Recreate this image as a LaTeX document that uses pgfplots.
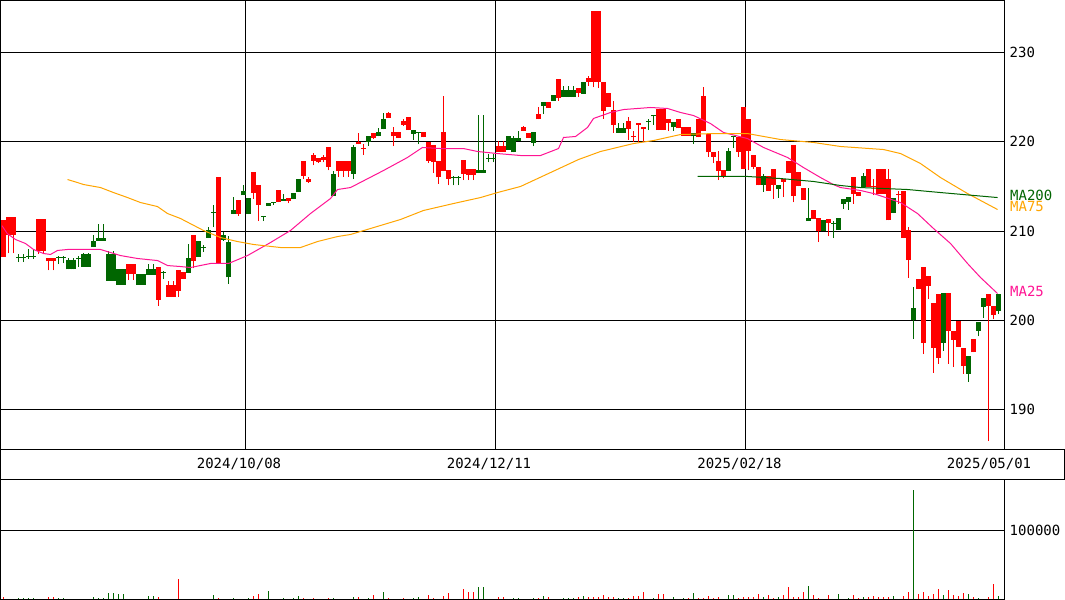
\documentclass[border=0pt]{standalone}
\usepackage{pgfplots}
\pgfplotsset{compat=1.18}
\usepackage{pgfplotstable}
\usepackage{fontspec}
\setmainfont{DejaVu Sans Mono}
\newcommand{\cf}{\fontsize{14bp}{16bp}\selectfont}
\definecolor{cred}{RGB}{255,0,0}
\definecolor{cgreen}{RGB}{0,102,0}
\definecolor{cpink}{RGB}{255,20,147}
\definecolor{corange}{RGB}{255,165,0}
\definecolor{cma}{RGB}{0,100,0}

\pgfplotstableread{
i bl bh wl wh
0 207.1 211.2 207.1 211.2
1 209.5 211.6 207.5 211.6
2 209.5 211.6 207.5 211.6
7 207.8 211.3 207.4 211.3
8 207.8 211.3 207.4 211.3
9 206.6 207.0 205.6 207.0
10 206.6 207.0 205.6 207.0
25 205.2 206.3 204.5 206.3
26 205.2 206.3 204.5 206.3
31 202.3 206.0 201.6 206.0
33 202.6 204.0 202.6 204.4
34 202.6 204.0 202.6 204.4
35 203.3 205.6 202.6 205.6
36 204.6 205.4 204.6 205.4
38 206.6 209.5 205.8 209.5
43 206.3 216.0 206.3 216.0
47 211.9 213.5 211.7 213.5
50 214.3 216.6 213.6 216.6
51 212.9 215.1 211.1 215.1
55 213.2 214.6 213.2 214.6
57 213.4 213.7 213.1 213.7
60 216.2 217.8 215.8 217.8
61 215.5 215.8 215.4 216.1
62 217.9 218.5 217.35 218.75
63 217.7 218.2 217.6 218.2
64 218.0 218.3 217.7 218.5
65 217.2 219.4 216.8 219.4
67 216.7 217.9 216.1 217.9
68 216.7 217.9 216.1 217.9
69 216.7 217.9 216.1 217.9
71 219.7 220.0 219.7 221.0
72 219.25 219.35 218.57 219.7
74 220.4 221.0 220.3 221.0
77 222.7 223.2 222.7 223.3
78 220.6 221.1 219.5 221.6
79 220.4 221.1 220.4 221.1
80 221.9 222.3 221.8 222.6
81 221.3 222.8 221.3 222.8
84 220.5 221.1 220.5 221.1
85 217.9 220.0 217.6 220.0
86 217.7 219.6 216.5 219.6
87 216.0 217.8 215.3 217.8
88 216.7 221.1 216.7 225.1
89 215.8 216.8 215.1 216.8
92 216.4 218.0 215.7 218.0
93 216.3 216.9 215.7 216.9
94 216.3 216.9 215.7 216.9
99 218.9 219.5 218.9 220.1
100 218.9 219.5 218.9 220.1
104 221.2 221.6 221.2 221.8
105 220.4 221.0 220.4 221.0
107 222.5 223.1 222.5 223.9
109 223.8 224.4 223.8 224.4
111 224.9 227.0 224.6 227.0
115 225.5 226.0 225.0 226.0
117 226.7 227.2 226.3 227.4
118 226.7 234.7 226.1 234.7
119 226.7 234.7 226.0 234.7
120 223.5 226.7 222.6 226.7
121 223.9 225.5 223.9 225.5
122 221.9 223.6 221.0 224.6
125 221.4 222.3 220.2 222.8
126 220.5 220.6 220.0 221.2
127 221.9 222.05 220.0 222.05
128 221.4 221.7 220.0 221.7
131 221.3 223.7 221.3 223.7
132 221.3 223.7 221.3 223.7
133 222.1 222.5 221.2 222.5
135 221.5 222.5 221.5 222.5
136 220.7 221.6 220.7 221.6
137 220.7 221.6 220.7 221.6
139 220.5 222.6 220.5 222.6
140 221.2 225.1 221.2 226.1
141 218.8 220.9 218.3 220.9
142 218.3 218.9 217.6 218.9
143 216.7 217.9 215.7 219.0
144 216.1 216.8 215.9 216.8
147 218.9 220.5 218.3 220.5
148 216.9 223.9 216.9 223.9
149 219.0 222.5 216.8 222.5
150 217.2 218.5 216.9 218.5
151 215.1 217.2 215.1 217.2
153 214.5 216.2 214.5 216.2
154 215.2 217.0 213.6 217.0
156 215.5 215.8 213.8 215.8
157 216.5 217.8 216.5 217.8
158 213.9 219.6 213.2 219.6
159 215.0 216.6 215.0 216.6
160 213.5 214.8 213.5 214.8
162 211.4 212.3 211.4 212.3
163 210.0 211.5 208.75 211.5
165 210.9 211.3 209.4 211.3
170 214.2 216.0 213.05 216.0
171 213.9 214.35 213.9 214.35
173 214.9 217.0 214.9 217.0
174 214.95 215.05 214.0 215.85
175 214.2 217.0 214.2 217.0
176 214.2 217.0 214.2 217.0
177 211.2 215.8 211.2 217.0
179 214.05 214.15 213.04 214.5
180 209.2 214.5 209.2 214.5
181 206.7 210.1 204.75 210.5
183 203.5 204.6 203.5 204.6
184 197.5 206.0 196.2 206.0
185 203.8 205.0 202.4 205.0
186 196.9 201.9 194.1 201.9
187 195.8 202.96 195.1 202.96
189 198.85 203.0 195.1 203.0
190 197.8 198.85 194.75 198.85
191 197.0 199.9 197.0 199.9
192 194.85 196.9 194.0 196.9
194 196.4 197.9 196.4 197.9
197 201.65 202.9 186.45 202.9
198 200.6 201.6 200.1 201.6
}\redc

\pgfplotstableread{
i bl bh wl wh
3 206.95 207.05 206.5 207.4
4 206.95 207.05 206.5 207.4
5 207.15 207.25 206.9 208.0
6 207.15 207.25 206.9 208.0
11 206.95 207.05 206.3 207.25
12 206.95 207.05 206.4 207.25
13 205.7 206.8 205.7 207.0
14 205.7 206.8 205.7 207.0
15 206.9 207.0 205.95 207.15
16 206.0 207.4 206.0 207.5
17 206.0 207.4 206.0 207.5
18 208.2 208.9 208.2 209.6
19 208.9 209.2 208.9 210.8
20 208.9 209.2 208.9 210.8
21 204.4 207.4 204.4 207.8
22 204.4 207.4 204.4 207.8
23 204.0 205.7 204.0 205.7
24 204.0 205.7 204.0 205.7
27 204.0 205.2 204.0 205.2
28 204.0 205.2 204.0 205.2
29 205.1 205.7 205.1 206.3
30 205.1 205.7 205.1 206.3
32 205.3 205.4 204.6 205.5
37 205.3 207.0 205.3 208.5
39 207.1 208.9 207.1 208.9
40 208.15 208.25 207.7 208.4
41 209.2 210.1 209.2 210.5
42 212.05 212.15 210.4 212.9
44 209.0 209.5 208.9 209.9
45 204.8 208.8 204.1 209.4
46 211.9 212.4 211.9 213.8
48 214.0 214.5 214.0 215.2
49 211.9 213.7 211.9 213.7
52 211.55 211.65 211.1 211.7
53 212.85 213.1 212.85 213.1
54 213.15 213.25 212.9 213.25
56 213.4 213.55 213.4 214.1
58 213.6 214.3 213.6 214.3
59 214.4 215.8 214.4 215.8
66 213.9 216.4 213.9 216.7
70 216.4 219.4 215.8 219.6
73 220.0 220.6 219.5 220.7
75 220.6 221.1 220.6 221.5
76 221.4 222.6 221.4 223.2
82 220.9 221.3 220.25 221.3
83 221.0 221.1 219.7 221.1
90 215.9 216.05 215.1 216.2
91 215.9 216.05 215.1 216.2
95 216.5 216.8 216.5 223.05
96 216.5 216.8 216.5 223.05
97 218.1 218.2 217.7 218.65
98 218.1 218.2 217.7 218.65
101 219.1 220.6 219.1 220.6
102 218.8 220.4 218.8 220.7
103 220.1 220.4 220.1 221.2
106 219.9 221.1 219.5 221.1
108 224.0 224.4 223.1 224.4
110 224.6 225.2 224.6 225.2
112 225.0 225.85 225.0 226.2
113 225.0 225.85 225.0 226.2
114 225.0 225.85 225.0 226.2
116 225.4 226.7 225.4 226.7
123 221.0 221.5 221.0 222.1
124 221.0 221.5 221.0 222.1
129 222.25 222.35 221.3 222.55
130 222.85 222.95 221.9 222.95
134 221.6 222.2 221.2 222.2
138 220.6 220.96 219.8 220.96
145 216.7 219.0 216.7 219.3
146 220.55 220.65 219.3 220.7
152 215.2 216.2 214.4 216.4
155 214.7 215.1 213.7 215.1
161 211.1 211.5 211.1 214.8
164 210.0 211.2 210.0 211.2
166 210.85 210.95 209.2 211.1
167 210.1 211.5 210.1 211.5
168 213.0 213.6 212.5 213.6
169 213.2 213.8 212.4 213.8
172 214.9 216.2 214.9 216.5
178 212.0 213.7 212.0 213.7
182 200.0 201.4 197.9 203.7
188 197.5 203.0 196.6 203.0
193 194.0 196.05 193.1 196.05
195 198.85 199.8 198.2 199.8
196 201.5 202.5 200.3 202.5
199 201.0 202.9 200.7 202.9
}\greenc

\pgfplotstableread{
i v
0 3500
9 3500
10 3500
31 3500
35 29000
43 2000
50 5000
51 8500
60 2000
62 2000
65 2000
71 3500
74 6500
77 2000
80 2000
85 6500
86 2000
88 5000
89 9400
92 15500
93 11000
94 11000
99 3500
100 3500
107 2000
109 3500
115 3500
117 3500
118 3500
119 3500
120 6400
121 3500
122 3500
125 2000
126 5000
127 5000
128 10900
131 8000
132 8000
137 2000
139 2000
140 2000
141 5000
142 2000
143 3500
147 2000
148 3500
149 3500
150 3500
151 8000
153 6400
154 2000
156 6400
157 18300
158 3500
159 3500
160 10900
162 6400
163 2000
165 6400
170 6400
171 2000
173 3500
174 5000
175 3500
176 3500
177 3500
180 5000
181 10900
183 8000
184 10900
185 5000
186 8000
187 15400
189 13900
190 6400
191 5000
192 9400
194 3500
197 3500
198 22700
}\redv

\pgfplotstableread{
i v
3 2000
4 2000
5 2000
6 2000
11 2000
12 2000
18 3500
19 2000
20 2000
21 9400
22 9400
23 8500
24 8500
29 5000
30 5000
42 6500
46 2000
49 2000
53 12500
56 2000
58 2000
59 5000
66 2000
70 3500
73 2000
76 11000
82 2000
83 3500
95 18400
96 18400
102 2000
103 2000
106 2000
108 5000
112 2000
113 2000
114 2000
116 5000
123 2000
124 2000
130 2000
134 3500
136 2000
138 9400
145 6400
146 6400
152 3500
155 3500
161 19700
167 8000
169 2000
172 3500
178 5000
182 159400
188 6400
193 8000
195 2000
199 5000
}\greenv

\pgfplotsset{
  candle/.style 2 args={forget plot, draw=none, mark=none,
    error bars/.cd, y dir=plus, y explicit, error mark=none,
    error bar style={draw=#1, line width=#2, line cap=butt}},
}

\begin{document}
\begin{tikzpicture}[x=1bp,y=1bp]
\useasboundingbox (0,0) rectangle (1065,600);
\fill[white] (0,0) rectangle (1065,600);

\begin{axis}[
  at={(0.5bp,150.5bp)}, anchor=south west,
  width=1004bp, height=449bp, scale only axis,
  xmin=-0.5, xmax=200.3, ymin=185.52, ymax=235.83,
  axis line style={black, line width=1bp},
  xtick={48.5,98.5,148.5}, xticklabels={,,},
  ytick={190,200,210,220,230},
  xmajorgrids, ymajorgrids, grid style={black, line width=1bp},
  major tick length=0pt,
  yticklabel pos=right,
  yticklabel style={anchor=west, inner sep=0pt, xshift=5bp, font=\cf},
  /pgf/number format/assume math mode=true,
]
% wicks
\addplot[candle={cred}{1bp}]
  table[x=i, y=wl, y error expr=\thisrow{wh}-\thisrow{wl}] {\redc};
\addplot[candle={cgreen}{1bp}]
  table[x=i, y=wl, y error expr=\thisrow{wh}-\thisrow{wl}] {\greenc};
% bodies
\addplot[candle={cred}{5bp}]
  table[x=i, y=bl, y error expr=\thisrow{bh}-\thisrow{bl}] {\redc};
\addplot[candle={cgreen}{5bp}]
  table[x=i, y=bl, y error expr=\thisrow{bh}-\thisrow{bl}] {\greenc};
% moving averages
\addplot[cpink, line width=1bp, mark=none] coordinates {
(-0.2,210.6)(0.84,209.72)(2.5,209.05)(4.5,208.60)(6.1,207.93)(8.1,207.48)(9.5,207.37)(10.9,207.82)(12.9,207.93)(19.5,207.93)(21.5,207.59)(23.5,207.25)(26.9,206.92)(30.9,206.69)(32.9,206.13)(35.5,206.02)(37.5,205.91)(41.5,206.36)(45.1,206.36)(48.9,207.25)(53.5,208.71)(57.5,210.06)(61.5,211.96)(65.5,213.64)(66.9,214.65)(69.5,214.87)(76.1,216.78)(80.9,218.24)(83.9,219.36)(87.5,219.24)(92.1,219.24)(94.9,218.91)(98.9,218.68)(103.5,218.46)(107.5,218.46)(111.1,219.24)(112.1,220.48)(114.5,220.59)(116.9,221.60)(118.1,222.61)(121.5,223.28)(124.1,223.61)(129.5,223.84)(132.9,223.73)(135.5,223.28)(138.1,222.94)(141.5,222.04)(144.1,221.04)(148.9,220.36)(152.1,219.36)(156.9,218.24)(160.1,217.11)(163.5,215.99)(166.1,215.2)(167.5,214.87)(171.5,214.54)(174.1,214.20)(179.5,213.19)(182.9,211.96)(186.1,210.28)(189.5,208.60)(192.9,206.36)(195.5,204.79)(198.9,203.00)
};
\addplot[corange, line width=1bp, mark=none] coordinates {
(12.9,215.77)(14.9,215.43)(16.1,215.21)(19.5,214.87)(22.1,214.31)(24.9,213.75)(27.5,213.19)(30.9,212.74)(32.9,211.96)(35.5,211.40)(40.1,210.06)(43.5,209.27)(46.9,208.82)(50.1,208.49)(55.5,208.15)(59.5,208.15)(62.9,208.82)(66.9,209.38)(69.5,209.61)(79.5,211.29)(84.1,212.30)(90.1,213.08)(95.5,213.75)(98.9,214.31)(103.5,214.99)(109.5,216.55)(115.1,218.01)(119.5,218.91)(126.1,219.80)(130.1,220.14)(135.5,220.81)(142.1,220.92)(148.9,220.92)(155.5,220.25)(162.1,219.92)(167.5,219.47)(176.1,219.13)(179.5,218.68)(183.5,217.56)(187.5,215.99)(192.9,214.20)(198.9,212.41)
};
\addplot[cma, line width=1bp, mark=none] coordinates {
(138.9,216.11)(148.9,216.11)(155.5,215.88)(162.1,215.55)(167.5,215.10)(171.5,214.87)(180.9,214.65)(187.5,214.31)(198.9,213.75)
};
\end{axis}

% date strip
\draw[black, line width=1bp] (0.5,120.5) rectangle (1064.5,150.5);
\node[font=\cf, inner sep=0pt] at (239,136) {2024/10/08};
\node[font=\cf, inner sep=0pt] at (489,136) {2024/12/11};
\node[font=\cf, inner sep=0pt] at (739.5,136) {2025/02/18};
\node[font=\cf, inner sep=0pt] at (989,136) {2025/05/01};

% MA labels
\node[font=\cf, inner sep=0pt, anchor=west, text=cma] at (1010,405) {MA200};
\node[font=\cf, inner sep=0pt, anchor=west, text=corange] at (1010,393) {MA75};
\node[font=\cf, inner sep=0pt, anchor=west, text=cpink] at (1010,309) {MA25};

\begin{axis}[
  at={(0.5bp,0.5bp)}, anchor=south west,
  width=1004bp, height=120bp, scale only axis,
  xmin=-0.5, xmax=200.3, ymin=0, ymax=173913,
  axis line style={black, line width=1bp},
  xtick=\empty,
  ytick={100000},
  ymajorgrids, grid style={black, line width=1bp},
  major tick length=0pt,
  scaled y ticks=false,
  yticklabel pos=right,
  yticklabel style={anchor=west, inner sep=0pt, xshift=5bp, font=\cf,
    /pgf/number format/fixed, /pgf/number format/1000 sep={}},
  /pgf/number format/assume math mode=true,
]
\addplot[cred, ycomb, mark=none, line width=1bp] table[x=i, y=v] {\redv};
\addplot[cgreen, ycomb, mark=none, line width=1bp] table[x=i, y=v] {\greenv};
\end{axis}
\end{tikzpicture}
\end{document}
